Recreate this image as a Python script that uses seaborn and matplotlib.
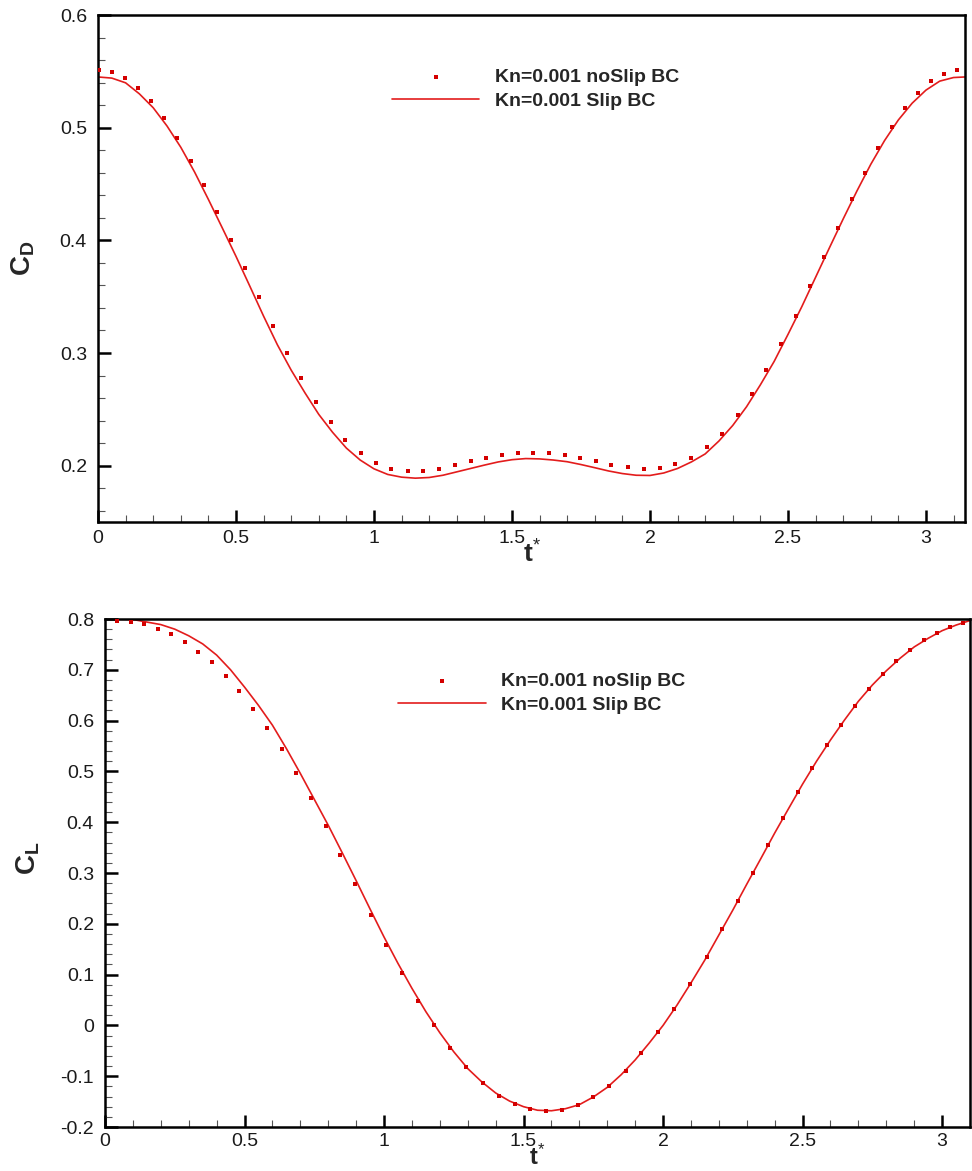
import numpy as np
import pandas as pd
import matplotlib
matplotlib.use("Agg")
import matplotlib.pyplot as plt
from matplotlib.ticker import MultipleLocator, FuncFormatter
import seaborn as sns

# ---------------- data ----------------
# Top panel: drag coefficient
cd_noslip_t = [0.0036, 0.0506, 0.0976, 0.1435, 0.1904, 0.2385, 0.2866, 0.3361, 0.3838, 0.4319,
               0.4814, 0.5327, 0.5826, 0.6332, 0.6845, 0.7373, 0.7900, 0.8432, 0.8959, 0.9516,
               1.0072, 1.0632, 1.1218, 1.1774, 1.2346, 1.2931, 1.3517, 1.4077, 1.4648, 1.5219,
               1.5775, 1.6332, 1.6917, 1.7477, 1.8034, 1.8605, 1.9190, 1.9776, 2.0347, 2.0922,
               2.1493, 2.2064, 2.2620, 2.3177, 2.3708, 2.4221, 2.4763, 2.5295, 2.5804, 2.6299,
               2.6805, 2.7311, 2.7792, 2.8273, 2.8768, 2.9237, 2.9718, 3.0188, 3.0647, 3.1127]
cd_noslip = [0.5509, 0.5492, 0.5438, 0.5355, 0.5237, 0.5086, 0.4911, 0.4707, 0.4494, 0.4252,
             0.4006, 0.3752, 0.3498, 0.3243, 0.3004, 0.2776, 0.2566, 0.2386, 0.2229, 0.2111,
             0.2027, 0.1974, 0.1954, 0.1954, 0.1974, 0.2007, 0.2040, 0.2072, 0.2098, 0.2116,
             0.2116, 0.2111, 0.2098, 0.2072, 0.2040, 0.2007, 0.1987, 0.1974, 0.1980, 0.2016,
             0.2072, 0.2164, 0.2285, 0.2448, 0.2637, 0.2847, 0.3081, 0.3332, 0.3595, 0.3853,
             0.4113, 0.4365, 0.4601, 0.4817, 0.5006, 0.5175, 0.5305, 0.5412, 0.5479, 0.5509]

cd_slip_t = [0.0, 0.05, 0.1, 0.15, 0.2, 0.25, 0.3, 0.35, 0.4, 0.45, 0.5, 0.55, 0.6, 0.65, 0.7,
             0.75, 0.8, 0.85, 0.9, 0.95, 1.0, 1.05, 1.1, 1.15, 1.2, 1.25, 1.3, 1.35, 1.4, 1.45,
             1.5, 1.55, 1.6, 1.65, 1.7, 1.75, 1.8, 1.85, 1.9, 1.95, 2.0, 2.05, 2.1, 2.15, 2.2,
             2.25, 2.3, 2.35, 2.4, 2.45, 2.5, 2.55, 2.6, 2.65, 2.7, 2.75, 2.8, 2.85, 2.9, 2.95,
             3.0, 3.05, 3.1, 3.1416]
cd_slip = [0.5450, 0.5440, 0.5398, 0.5300, 0.5177, 0.5015, 0.4826, 0.4606, 0.4363, 0.4112,
           0.3858, 0.3594, 0.3327, 0.3073, 0.2848, 0.2646, 0.2455, 0.2296, 0.2156, 0.2050,
           0.1972, 0.1922, 0.1898, 0.1889, 0.1895, 0.1915, 0.1945, 0.1975, 0.2005, 0.2033,
           0.2053, 0.2063, 0.2060, 0.2050, 0.2035, 0.2010, 0.1982, 0.1953, 0.1930, 0.1915,
           0.1913, 0.1935, 0.1975, 0.2033, 0.2104, 0.2219, 0.2357, 0.2523, 0.2717, 0.2925,
           0.3164, 0.3410, 0.3671, 0.3932, 0.4189, 0.4438, 0.4674, 0.4885, 0.5068, 0.5217,
           0.5333, 0.5413, 0.5445, 0.5450]

# Bottom panel: lift coefficient
cl_noslip_t = [0.044, 0.093, 0.1407, 0.1887, 0.2374, 0.2864, 0.333, 0.3831, 0.4321, 0.4798,
               0.5299, 0.5811, 0.6326, 0.685, 0.7376, 0.7913, 0.8425, 0.8976, 0.9535, 1.0086,
               1.0645, 1.1218, 1.179, 1.2363, 1.295, 1.3545, 1.4107, 1.469, 1.5242, 1.5814,
               1.6362, 1.6946, 1.7497, 1.807, 1.8654, 1.9227, 1.9824, 2.0397, 2.0981, 2.1565,
               2.2116, 2.2674, 2.322, 2.3763, 2.431, 2.4837, 2.5349, 2.5875, 2.6376, 2.6863,
               2.7365, 2.7866, 2.8356, 2.8847, 2.9334, 2.9814, 3.029, 3.0755]
cl_noslip = [0.797, 0.7944, 0.7892, 0.7807, 0.7695, 0.7544, 0.736, 0.7144, 0.6882, 0.6579,
             0.6232, 0.5864, 0.5445, 0.4965, 0.4467, 0.3929, 0.3358, 0.2780, 0.2177, 0.1579,
             0.1022, 0.0490, 0.0000, -0.0449, -0.0823, -0.1130, -0.1380, -0.1543, -0.1650, -0.1689,
             -0.1661, -0.1571, -0.1413, -0.1189, -0.0902, -0.0539, -0.0134, 0.0319, 0.0819, 0.1350,
             0.1894, 0.2445, 0.3000, 0.3555, 0.4087, 0.4598, 0.5071, 0.5516, 0.5923, 0.6291,
             0.6626, 0.6913, 0.7177, 0.7386, 0.7577, 0.7720, 0.7839, 0.7931]

cl_slip_t = [0.0, 0.1, 0.2, 0.25, 0.3, 0.35, 0.4, 0.45, 0.5, 0.55, 0.6, 0.65, 0.7, 0.75, 0.8,
             0.85, 0.9, 0.95, 1.0, 1.05, 1.1, 1.15, 1.2, 1.25, 1.3, 1.35, 1.4, 1.45, 1.5, 1.55,
             1.6, 1.65, 1.7, 1.75, 1.8, 1.85, 1.9, 1.95, 2.0, 2.05, 2.1, 2.15, 2.2, 2.25, 2.3,
             2.35, 2.4, 2.45, 2.5, 2.55, 2.6, 2.65, 2.7, 2.75, 2.8, 2.85, 2.9, 2.95, 3.0, 3.05, 3.1]
cl_slip = [0.800, 0.799, 0.789, 0.780, 0.767, 0.751, 0.729, 0.700, 0.666, 0.630,
           0.591, 0.545, 0.496, 0.445, 0.394, 0.340, 0.285, 0.229, 0.174, 0.122,
           0.073, 0.027, -0.0145, -0.052, -0.085, -0.111, -0.133, -0.149, -0.160, -0.167,
           -0.168, -0.164, -0.156, -0.141, -0.122, -0.097, -0.068, -0.035, 0.000, 0.040,
           0.0836, 0.129, 0.178, 0.227, 0.278, 0.328, 0.3786, 0.427, 0.475, 0.520,
           0.5618, 0.601, 0.638, 0.670, 0.698, 0.723, 0.745, 0.762, 0.777, 0.788, 0.797]

label_noslip = "Kn=0.001 noSlip BC"
label_slip = "Kn=0.001 Slip BC"

# ---------------- style ----------------
sns.set_style("white")
plt.rcParams["font.family"] = ["Liberation Sans", "DejaVu Sans"]
plt.rcParams["mathtext.fontset"] = "custom"
plt.rcParams["mathtext.rm"] = "Liberation Sans"
plt.rcParams["mathtext.bf"] = "Liberation Sans:bold"
plt.rcParams["mathtext.it"] = "Liberation Sans:italic"

MARK_COLOR = "#d40000"
LINE_COLOR = "#e31c1c"

fig = plt.figure(figsize=(9.72, 11.71), dpi=100)
ax1 = fig.add_axes([98 / 972, 1 - 522 / 1171, 867 / 972, 507 / 1171])
ax2 = fig.add_axes([105 / 972, 1 - 1127 / 1171, 865 / 972, 508 / 1171])

fmt = FuncFormatter(lambda v, p: "%g" % round(v, 6))


def style_axes(ax, xmax, ymin, ymax, ylab, xpad):
    ax.set_xlim(0, xmax)
    ax.set_ylim(ymin, ymax)
    ax.xaxis.set_major_locator(MultipleLocator(0.5))
    ax.xaxis.set_minor_locator(MultipleLocator(0.1))
    ax.yaxis.set_major_locator(MultipleLocator(0.1))
    ax.yaxis.set_minor_locator(MultipleLocator(0.02))
    ax.xaxis.set_major_formatter(fmt)
    ax.yaxis.set_major_formatter(fmt)
    ax.tick_params(which="major", direction="in", length=9, width=1.8, color="black",
                   labelsize=14, labelcolor="#1a1a1a", bottom=True, left=True,
                   top=False, right=False)
    ax.tick_params(which="minor", direction="in", length=5, width=0.8, color="#555555",
                   bottom=True, left=True, top=False, right=False)
    ax.tick_params(axis="y", which="major", pad=8)
    ax.tick_params(axis="x", which="major", pad=xpad)
    for s in ax.spines.values():
        s.set_visible(True)
        s.set_color("black")
        s.set_linewidth(1.8)
    ax.set_ylabel(ylab, fontsize=20, fontweight="bold")
    ax.set_facecolor("white")


# top panel
sns.scatterplot(x=cd_noslip_t, y=cd_noslip, marker="s", s=11, color=MARK_COLOR,
                linewidth=0, ax=ax1, label=label_noslip, zorder=3)
sns.lineplot(x=cd_slip_t, y=cd_slip, color=LINE_COLOR, linewidth=1.2, ax=ax1,
             label=label_slip, errorbar=None)
style_axes(ax1, np.pi, 0.15, 0.6, r"$\mathbf{C}_{\mathbf{D}}$", 6)
ax1.set_xlabel(r"$\mathbf{t}^{*}$", fontsize=19)
ax1.xaxis.set_label_coords(0.5, -0.036)
ax1.yaxis.set_label_coords(-0.070, 0.52)

# bottom panel
sns.scatterplot(x=cl_noslip_t, y=cl_noslip, marker="s", s=11, color=MARK_COLOR,
                linewidth=0, ax=ax2, label=label_noslip, zorder=3)
sns.lineplot(x=cl_slip_t, y=cl_slip, color=LINE_COLOR, linewidth=1.2, ax=ax2,
             label=label_slip, errorbar=None)
style_axes(ax2, 3.1, -0.2, 0.8, r"$\mathbf{C}_{\mathbf{L}}$", 4)
ax2.set_xlabel(r"$\mathbf{t}^{*}$", fontsize=17, va="bottom")
ax2.xaxis.set_label_coords(0.5, (1127 - 1170) / 508)
ax2.yaxis.set_label_coords(-0.073, 0.53)

for ax in (ax1, ax2):
    h, l = ax.get_legend_handles_labels()
    ax.legend(h, l, loc="center left", bbox_to_anchor=(0.339, 0.854), frameon=False,
              borderpad=0, borderaxespad=0, handlelength=4.5, handletextpad=0.8,
              labelspacing=0.32, prop={"weight": "bold", "size": 14}, scatterpoints=1)

fig.savefig("out.png", dpi=100, facecolor="white")
